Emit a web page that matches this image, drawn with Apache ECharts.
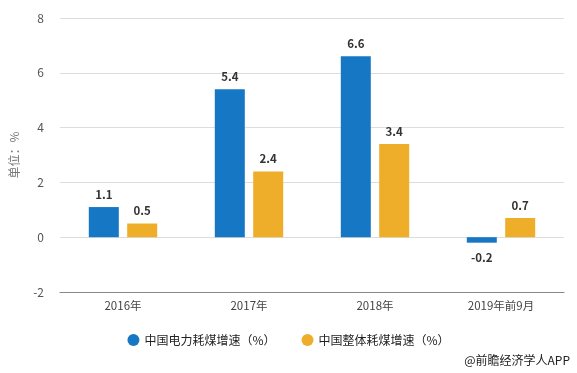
<!DOCTYPE html>
<html><head><meta charset="utf-8">
<script src="https://cdn.jsdelivr.net/npm/echarts@6/dist/echarts.min.js"></script>
<style>html,body{margin:0;padding:0;background:#fff;}#c{width:577px;height:373px;}</style>
</head><body><div id="c"></div>
<script>
const categories = ['2016年', '2017年', '2018年', '2019年前9月'];
const powerCoal = [1.1, 5.4, 6.6, -0.2];
const totalCoal = [0.5, 2.4, 3.4, 0.7];
const seriesNames = ['中国电力耗煤增速（%）', '中国整体耗煤增速（%）'];
const yTicks = { min: -2, max: 8, interval: 2 };

const font = '"Microsoft YaHei","Noto Sans CJK SC",sans-serif';
const chart = echarts.init(document.getElementById('c'));
const lbl = { show: true, position: 'top', distance: 7, color: '#333', fontWeight: 'bold', fontSize: 11.5, fontFamily: font };
const withNeg = arr => arr.map(v => v < 0 ? { value: v, label: { position: 'bottom', distance: 9 } } : v);
chart.setOption({
  animation: false,
  textStyle: { fontFamily: font },
  grid: { left: 59, right: 13, top: 18, bottom: 81, containLabel: false },
  legend: {
    bottom: 22, left: 'center', icon: 'circle', itemWidth: 12, itemHeight: 12, itemGap: 26,
    textStyle: { color: '#222', fontSize: 12, fontFamily: font },
    data: seriesNames
  },
  graphic: [{
    type: 'text', right: 7, bottom: 7,
    style: { text: '@前瞻经济学人APP', fill: '#222', font: '12px ' + font }
  }],
  xAxis: {
    type: 'category', data: categories,
    axisLine: { onZero: false, lineStyle: { color: '#888' } },
    axisTick: { alignWithLabel: true, length: 5, lineStyle: { color: '#888' } },
    axisLabel: { color: '#444', fontSize: 11.5, margin: 8 }
  },
  yAxis: {
    type: 'value', min: yTicks.min, max: yTicks.max, interval: yTicks.interval,
    name: '单位：%', nameLocation: 'middle', nameRotate: 90, nameGap: 40,
    nameTextStyle: { color: '#777', fontSize: 12 },
    axisLine: { show: false }, axisTick: { show: false },
    axisLabel: { color: '#555', fontSize: 12, margin: 16 },
    splitLine: { lineStyle: { color: '#ddd' } }
  },
  series: [
    { name: seriesNames[0], type: 'bar', data: withNeg(powerCoal), barWidth: 30, barGap: '28%',
      itemStyle: { color: '#1677c4' }, label: lbl },
    { name: seriesNames[1], type: 'bar', data: withNeg(totalCoal), barWidth: 30,
      itemStyle: { color: '#efae29' }, label: lbl }
  ]
});
</script></body></html>
